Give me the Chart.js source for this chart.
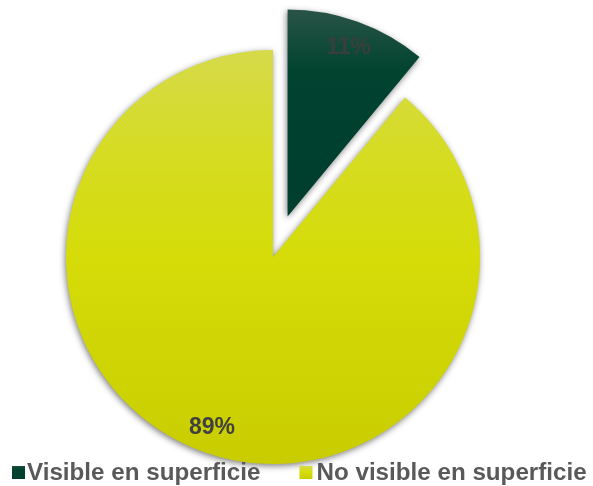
<!DOCTYPE html>
<html lang="es">
<head>
  <meta charset="UTF-8" />
  <title>Visible en superficie</title>
  <style>
    * { box-sizing: border-box; margin: 0; padding: 0; }
    html, body { width: 593px; height: 486px; background: #fff; overflow: hidden; }
    canvas { display: block; }
  </style>
</head>
<body>
  <canvas id="pieChart" width="593" height="486"></canvas>

  <script src="https://cdn.jsdelivr.net/npm/chart.js"></script>
  <script>
    // data
    const categories = ['Visible en superficie', 'No visible en superficie'];
    const shares = [11, 89];
    const pctLabels = ['11%', '89%'];

    const solidColors = ['#00402f', '#d4dc00'];
    const RADIUS = 207;
    const EXPLODE = 43;
    const FONT = '"Liberation Sans", Arial, sans-serif';

    function darkGrad(ctx, top, bottom) {
      const g = ctx.createLinearGradient(0, top, 0, bottom);
      g.addColorStop(0, '#445f58');
      g.addColorStop(0.5, '#00432f');
      g.addColorStop(1, '#003f2e');
      return g;
    }
    function yellowGrad(ctx, top, bottom) {
      const g = ctx.createLinearGradient(0, top, 0, bottom);
      g.addColorStop(0, '#d6da4a');
      g.addColorStop(0.25, '#d6dc22');
      g.addColorStop(0.5, '#d5dc08');
      g.addColorStop(1, '#c9cd00');
      return g;
    }

    // vertical gradient per slice, placed from the pie's own centre
    function sliceFill(context) {
      const chart = context.chart;
      const area = chart.chartArea;
      const i = context.dataIndex;
      if (!area) return solidColors[i];
      const cy = (area.top + area.bottom) / 2;
      if (i === 0) {
        const total = shares.reduce((a, b) => a + b, 0);
        const mid = -Math.PI / 2 + Math.PI * shares[0] / total;
        const oy = cy + Math.sin(mid) * EXPLODE;
        return darkGrad(chart.ctx, oy - RADIUS, oy);
      }
      return yellowGrad(chart.ctx, cy - RADIUS, cy + RADIUS);
    }

    // pull the first slice out without growing it
    const explodeSlice = {
      id: 'explodeSlice',
      afterDatasetUpdate(chart, args) {
        const arc = args.meta.data[0];
        if (!arc || arc._exploded) return;
        const base = arc.draw;
        arc.draw = function (ctx, area) {
          const mid = (this.startAngle + this.endAngle) / 2;
          ctx.save();
          ctx.translate(Math.cos(mid) * EXPLODE, Math.sin(mid) * EXPLODE);
          base.call(this, ctx, area);
          ctx.restore();
        };
        arc._exploded = true;
      }
    };

    const shadowAndLabels = {
      id: 'shadowAndLabels',
      beforeDatasetsDraw(chart) {
        const ctx = chart.ctx;
        ctx.save();
        ctx.shadowColor = 'rgba(0,0,0,0.5)';
        ctx.shadowBlur = 6;
        ctx.shadowOffsetX = -1;
        ctx.shadowOffsetY = 2;
      },
      afterDatasetsDraw(chart) {
        const ctx = chart.ctx;
        ctx.restore();
        const meta = chart.getDatasetMeta(0);
        ctx.save();
        ctx.font = 'bold 23px ' + FONT;
        ctx.textAlign = 'center';
        ctx.textBaseline = 'middle';
        meta.data.forEach((arc, i) => {
          const mid = (arc.startAngle + arc.endAngle) / 2;
          const r = arc.outerRadius * 0.87 + (i === 0 ? EXPLODE : 0);
          ctx.fillStyle = i === 0 ? '#393f3c' : '#404040';
          ctx.fillText(pctLabels[i], arc.x + Math.cos(mid) * r, arc.y + Math.sin(mid) * r + 1);
        });
        ctx.restore();
      },
      afterDraw(chart) {
        // legend row along the bottom
        const ctx = chart.ctx;
        ctx.save();
        ctx.font = 'bold 24.2px ' + FONT;
        ctx.textBaseline = 'alphabetic';
        let x = 12;
        chart.data.labels.forEach((label, i) => {
          const boxTop = 466, boxH = 13;
          ctx.fillStyle = i === 0 ? darkGrad(ctx, boxTop - 6, boxTop + boxH) : yellowGrad(ctx, boxTop, boxTop + boxH);
          ctx.fillRect(x, boxTop, 13, boxH);
          const tx = x + (i === 0 ? 15 : 17);
          ctx.fillStyle = '#595959';
          ctx.fillText(label, tx, 480);
          x = tx + ctx.measureText(label).width + 39;
        });
        ctx.restore();
      }
    };

    new Chart(document.getElementById('pieChart'), {
      type: 'pie',
      data: {
        labels: categories,
        datasets: [{
          data: shares,
          backgroundColor: sliceFill,
          borderWidth: 0,
          radius: RADIUS,
          clip: false
        }]
      },
      options: {
        responsive: false,
        animation: false,
        layout: { padding: { top: 28, bottom: 0, left: 0, right: 47 } },
        plugins: {
          tooltip: { enabled: false },
          legend: { display: false }
        }
      },
      plugins: [explodeSlice, shadowAndLabels]
    });
  </script>
</body>
</html>
